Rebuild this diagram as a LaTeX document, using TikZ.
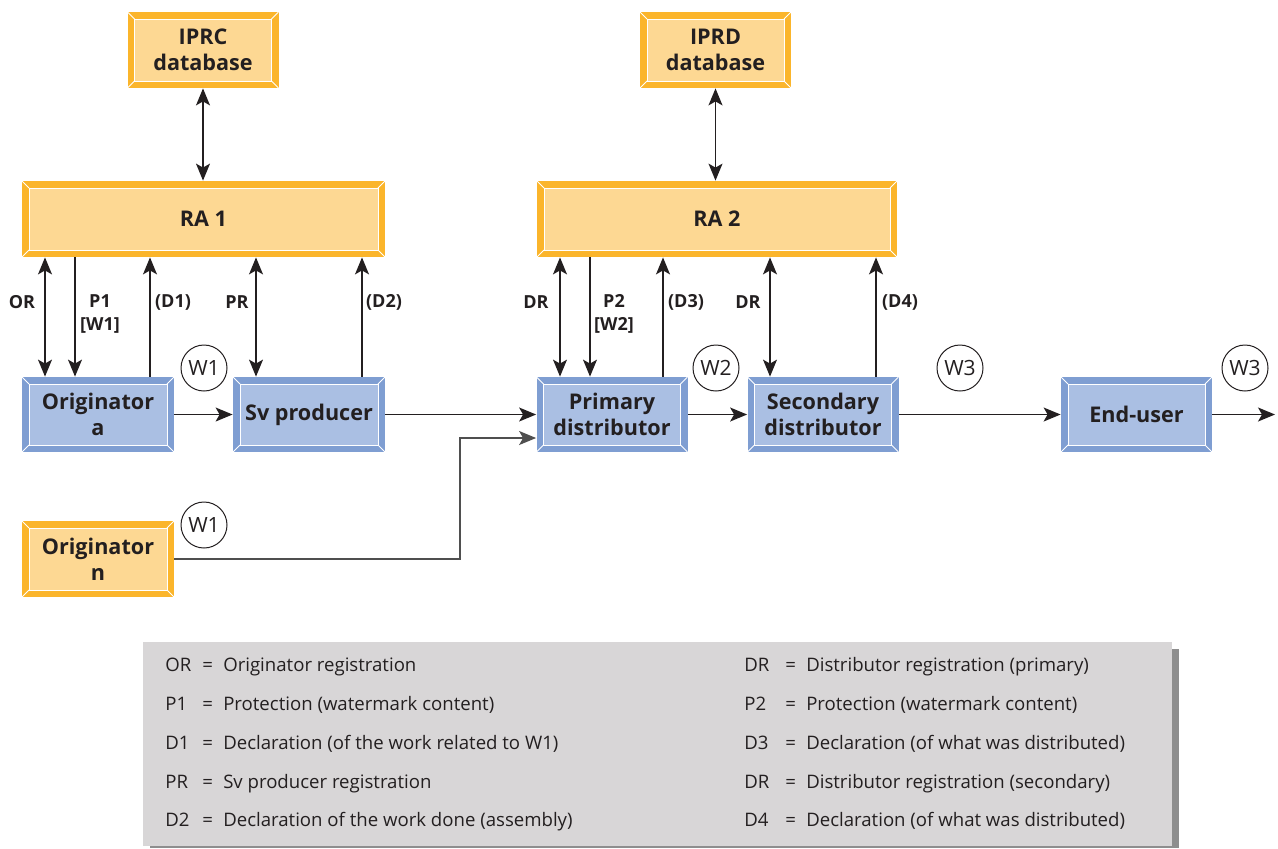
\documentclass[tikz,border=0pt]{standalone}
\usepackage{fontspec}
\setmainfont{Open Sans}
\usetikzlibrary{arrows.meta}
\definecolor{ink}{HTML}{231F20}
\definecolor{orframe}{HTML}{FBB52B}
\definecolor{orfill}{HTML}{FDD893}
\definecolor{blframe}{HTML}{7F9ED2}
\definecolor{blfill}{HTML}{AABFE3}
\definecolor{legfill}{HTML}{D8D6D7}
\definecolor{legshadow}{HTML}{8E8E8E}
\definecolor{feed}{HTML}{4F4F4F}
\tikzset{
  bevel/.style 2 args={rectangle, inner sep=0pt, align=center, text=ink, fill=#1,
    font=\bfseries\fontsize{10.8}{13}\selectfont,
    path picture={
      \fill[#2, draw=white, line width=0.5pt]
        ([shift={(3.5pt,3.5pt)}]path picture bounding box.south west) rectangle
        ([shift={(-3.5pt,-3.5pt)}]path picture bounding box.north east);
      \draw[white, line width=0.5pt]
        (path picture bounding box.south west) -- ++(3.5pt,3.5pt)
        (path picture bounding box.south east) -- ++(-3.5pt,3.5pt)
        (path picture bounding box.north west) -- ++(3.5pt,-3.5pt)
        (path picture bounding box.north east) -- ++(-3.5pt,-3.5pt);
    }},
  orbox/.style={bevel={orframe}{orfill}},
  blbox/.style={bevel={blframe}{blfill}},
  sz/.style 2 args={minimum width=#1*0.5pt, minimum height=#2*0.5pt},
  conn/.style={draw=ink, line width=0.65pt},
  lab/.style={text=ink, font=\bfseries\fontsize{9}{11.5}\selectfont, align=center, inner sep=1pt},
  wm/.style={circle, draw=ink, line width=0.5pt, minimum size=23pt, inner sep=0pt,
    text=ink, font=\fontsize{10.5}{12}\selectfont},
  leg/.style={text=ink, font=\fontsize{9.3}{11}\selectfont, inner sep=0pt, anchor=base west},
}

\begin{document}
\begin{tikzpicture}[x=0.5pt, y=-0.5pt, >={Stealth[length=8.5pt,width=7pt,inset=2pt]}]
  \useasboundingbox (0,0) rectangle (1278,848);
  % registration authorities and databases
  \node[orbox, sz={151}{76}] (iprc) at (203,50) {IPRC\\database};
  \node[orbox, sz={151}{76}] (iprd) at (715.5,50) {IPRD\\database};
  \node[orbox, sz={363}{76}] (ra1) at (203.5,219) {RA 1};
  \node[orbox, sz={360}{76}] (ra2) at (717,219) {RA 2};
  % chain of parties
  \node[blbox, sz={152}{75}] (origa) at (98,414.5) {Originator\\a};
  \node[blbox, sz={152}{75}] (svp) at (309,414.5) {Sv producer};
  \node[blbox, sz={151}{75}] (pdist) at (612,414.5) {Primary\\distributor};
  \node[blbox, sz={151}{75}] (sdist) at (823,414.5) {Secondary\\distributor};
  \node[blbox, sz={151}{75}] (enduser) at (1136.5,414.5) {End-user};
  \node[orbox, sz={152}{76}] (orign) at (98,559) {Originator\\n};
  \coordinate (out) at (1275,414.5);
  \coordinate (bend) at (460,0);

  \draw[conn,<->] (iprc.south) -- (iprc.south |- ra1.north);
  \draw[conn,<->] (iprd.south) -- (iprd.south |- ra2.north);
  % links between RA and parties
  \foreach \px/\tips/\up/\dn in {45/<->/ra1/origa, 75/->/ra1/origa, 150/<-/ra1/origa,
      256/<->/ra1/svp, 362/<-/ra1/svp, 560/<->/ra2/pdist, 590/->/ra2/pdist,
      663/<-/ra2/pdist, 770/<->/ra2/sdist, 876/<-/ra2/sdist}
    \draw[conn,\tips] (\up.south -| \px,0) -- (\dn.north -| \px,0);
  \draw[conn,->] (origa) -- (svp);
  \draw[conn,->] (svp) -- (pdist);
  \draw[conn,->] (pdist) -- (sdist);
  \draw[conn,->] (sdist) -- (enduser);
  \draw[conn,->] (enduser.east) -- (out);
  \draw[conn,->,draw=feed,line width=0.8pt] (orign.east) -- (orign.east -| bend)
    |- ([yshift=-11.75pt]pdist.west);

  \node[lab] (lor) at (22,302) {OR};
  \node[lab] (lp1) at (100,314) {P1\\{[W1]}};
  \node[lab] (ld1) at (173,302) {(D1)};
  \node[lab] (lpr) at (237,302) {PR};
  \node[lab] (ld2) at (384,302) {(D2)};
  \node[lab] (ldr1) at (536,302) {DR};
  \node[lab] (lp2) at (614,314) {P2\\{[W2]}};
  \node[lab] (ld3) at (686,302) {(D3)};
  \node[lab] (ldr2) at (748,302) {DR};
  \node[lab] (ld4) at (900,302) {(D4)};

  \node[wm] (w1a) at (204,368) {W1};
  \node[wm] (w1n) at (204,525) {W1};
  \node[wm] (w2) at (716,368) {W2};
  \node[wm] (w3a) at (960,368) {W3};
  \node[wm] (w3b) at (1245,368) {W3};

  % legend
  \fill[legshadow] (150,649) rectangle (1179,848);
  \fill[legfill] (143,642) rectangle (1172,846);
  \foreach \y/\ab/\txt [count=\i] in {671/OR/Originator registration,
      710/P1/Protection (watermark content),
      749/D1/Declaration (of the work related to W1),
      788/PR/Sv producer registration,
      826/D2/Declaration of the work done (assembly)} {
    \node[leg] (la\i) at (165,\y) {\ab};
    \node[leg] (lb\i) at (202,\y) {=\hspace{0.55em}\txt};
  }
  \foreach \y/\ab/\txt [count=\i] in {671/DR/Distributor registration (primary),
      710/P2/Protection (watermark content),
      749/D3/Declaration (of what was distributed),
      788/DR/Distributor registration (secondary),
      826/D4/Declaration (of what was distributed)} {
    \node[leg] (ra\i) at (744,\y) {\ab};
    \node[leg] (rb\i) at (785,\y) {=\hspace{0.55em}\txt};
  }
\end{tikzpicture}
\end{document}
